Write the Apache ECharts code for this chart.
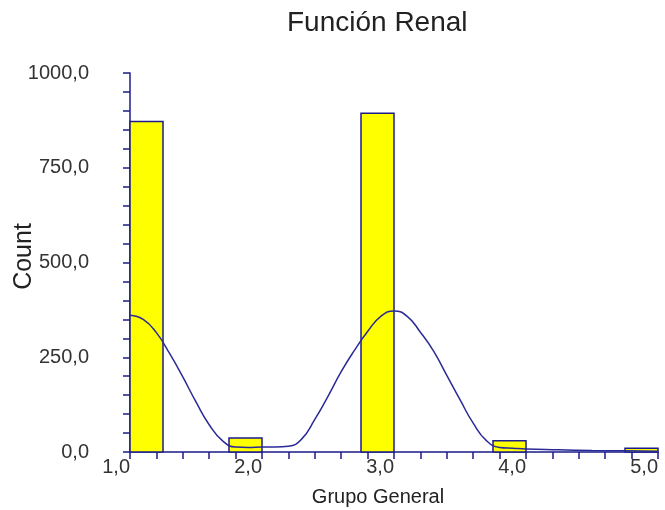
<!DOCTYPE html>
<html>
<head>
<meta charset="utf-8">
<script src="https://cdn.jsdelivr.net/npm/echarts@6/dist/echarts.min.js"></script>
<style>
  html, body { margin: 0; padding: 0; background: #fff; }
  #main { width: 665px; height: 510px; }
</style>
</head>
<body>
<div id="main"></div>
<script>
// histogram bins
var binStart = [1.0, 1.75, 2.75, 3.75, 4.75];
var binEnd = [1.25, 2.0, 3.0, 4.0, 5.0];
var counts = [872, 37, 894, 30, 10];

// density curve (scaled to counts)
var curveX = [1.0, 1.1, 1.2, 1.3, 1.4, 1.5, 1.6, 1.7, 1.8, 1.9, 2.0, 2.1, 2.2, 2.3, 2.4, 2.5, 2.6, 2.7, 2.8, 2.9,
              3.0, 3.1, 3.2, 3.3, 3.4, 3.5, 3.6, 3.7, 3.8, 3.9, 4.0, 4.25, 4.5, 4.75, 5.0];
var curveY = [361, 350, 315, 260, 198, 132, 72, 30, 13, 12, 13, 13, 15, 34, 86, 147, 212, 268, 318, 358,
              372, 358, 316, 266, 202, 138, 76, 30, 12, 10, 8, 6, 4, 3, 2];

var navy = '#1c1c8a';

function fmt(v) {
  return v.toFixed(1).replace('.', ',');
}

var barData = [];
for (var i = 0; i < counts.length; i++) {
  barData.push([binStart[i], binEnd[i], counts[i]]);
}
var lineData = [];
for (var j = 0; j < curveX.length; j++) {
  lineData.push([curveX[j], curveY[j]]);
}

var chart = echarts.init(document.getElementById('main'));
var option = {
  animation: false,
  title: {
    text: 'Función Renal',
    left: 282,
    top: 4,
    textStyle: { fontFamily: 'Liberation Sans', fontSize: 28, fontWeight: 'normal', color: '#222' }
  },
  grid: { left: 130, right: 7, top: 73, bottom: 58, outerBoundsMode: 'none', containLabel: false },
  xAxis: {
    type: 'value',
    min: 1,
    max: 5,
    interval: 1,
    name: 'Grupo General',
    nameLocation: 'middle',
    nameGap: 35,
    nameMoveOverlap: false,
    nameTextStyle: { fontFamily: 'Liberation Sans', fontSize: 20, color: '#222', padding: [0, 32, 0, 0] },
    axisLine: { lineStyle: { color: navy, width: 1.5 } },
    axisTick: { length: 7, lineStyle: { color: navy, width: 1.5 } },
    minorTick: { show: true, splitNumber: 5, length: 7, lineStyle: { color: navy, width: 1.5 } },
    splitLine: { show: false },
    axisLabel: {
      margin: 5,
      align: 'right',
      fontFamily: 'Liberation Sans',
      fontSize: 20,
      color: '#333',
      formatter: function (v) { return fmt(v); }
    }
  },
  yAxis: {
    type: 'value',
    min: 0,
    max: 1000,
    interval: 250,
    name: 'Count',
    nameLocation: 'middle',
    nameGap: 93,
    nameMoveOverlap: false,
    nameTextStyle: { fontFamily: 'Liberation Sans', fontSize: 25, color: '#222', padding: [0, 0, 0, 12] },
    axisLine: { show: true, lineStyle: { color: navy, width: 1.5 } },
    axisTick: { show: true, length: 7, lineStyle: { color: navy, width: 1.5 } },
    minorTick: { show: true, splitNumber: 5, length: 7, lineStyle: { color: navy, width: 1.5 } },
    splitLine: { show: false },
    axisLabel: {
      margin: 41,
      fontFamily: 'Liberation Sans',
      fontSize: 20,
      color: '#333',
      formatter: function (v) { return fmt(v); }
    }
  },
  series: [
    {
      type: 'custom',
      data: barData,
      encode: { x: [0, 1], y: 2 },
      renderItem: function (params, api) {
        var p0 = api.coord([api.value(0), api.value(2)]);
        var p1 = api.coord([api.value(1), 0]);
        return {
          type: 'rect',
          shape: { x: p0[0], y: p0[1], width: p1[0] - p0[0], height: p1[1] - p0[1] },
          style: { fill: '#ffff00', stroke: navy, lineWidth: 1.5 }
        };
      }
    },
    {
      type: 'line',
      data: lineData,
      smooth: true,
      symbol: 'none',
      lineStyle: { color: '#2a2a96', width: 1.5 },
      z: 3
    }
  ]
};
chart.setOption(option);
</script>
</body>
</html>
